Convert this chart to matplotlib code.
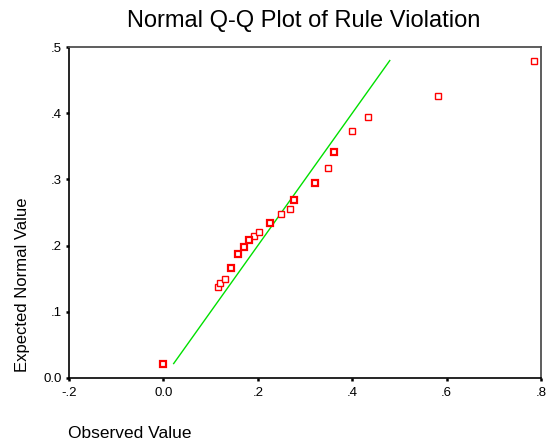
import numpy as np
import matplotlib.pyplot as plt
from matplotlib.ticker import FixedLocator, FixedFormatter

plt.rcParams['font.family'] = ['Liberation Sans', 'DejaVu Sans']

# observed values and their expected normal values (tied cases counted twice)
observed = [0.000, 0.1155, 0.120, 0.1308, 0.1429, 0.1584, 0.1717, 0.1823,
            0.1923, 0.2022, 0.2262, 0.2489, 0.2693, 0.2771, 0.3210, 0.3498,
            0.3619, 0.3986, 0.4325, 0.5817, 0.7853]
expected = [0.0218, 0.1377, 0.1430, 0.1493, 0.1655, 0.1876, 0.1982, 0.2078,
            0.2148, 0.2204, 0.2336, 0.2481, 0.2552, 0.2684, 0.2941, 0.3177,
            0.3410, 0.3732, 0.3949, 0.4262, 0.4796]
counts = [2, 1, 1, 1, 2, 2, 2, 2, 1, 1, 2, 1, 1, 2, 2, 1, 2, 1, 1, 1, 1]

xticks = [-0.2, 0.0, 0.2, 0.4, 0.6, 0.8]
xlabels = ['-.2', '0.0', '.2', '.4', '.6', '.8']
yticks = [0.0, 0.1, 0.2, 0.3, 0.4, 0.5]
ylabels = ['0.0', '.1', '.2', '.3', '.4', '.5']

fig = plt.figure(figsize=(5.59, 4.46), dpi=100)
ax = fig.add_axes([0.1234, 0.1525, 0.8444, 0.742])

# reference line y = x over the range of expected values
lo, hi = min(expected), max(expected)
ax.plot([lo, hi], [lo, hi], color='#00e000', lw=1.0, zorder=2)

obs = np.array(observed)
exp_ = np.array(expected)
cnt = np.array(counts)
for c, lw in [(1, 1.0), (2, 1.6)]:
    m = cnt == c
    ax.plot(obs[m], exp_[m], ls='none', marker='s', ms=4.2,
            mfc='white', mec='#ff0000', mew=lw, zorder=3)

ax.set_xlim(-0.2, 0.8)
ax.set_ylim(0.0, 0.5)
ax.xaxis.set_major_locator(FixedLocator(xticks))
ax.xaxis.set_major_formatter(FixedFormatter(xlabels))
ax.yaxis.set_major_locator(FixedLocator(yticks))
ax.yaxis.set_major_formatter(FixedFormatter(ylabels))
ax.tick_params(direction='out', length=2, width=1.8, labelsize=9.5, pad=3)
ax.tick_params(axis='x', pad=4.5)

for side in ['left', 'bottom']:
    ax.spines[side].set_linewidth(1.2)
    ax.spines[side].set_color('black')
for side in ['top', 'right']:
    ax.spines[side].set_linewidth(1.3)
    ax.spines[side].set_color('#505050')

fig.text(0.544, 0.953, 'Normal Q-Q Plot of Rule Violation', ha='center',
         va='center', fontsize=17)
fig.text(0.122, 0.029, 'Observed Value', ha='left', va='center', fontsize=12.5)
fig.text(0.041, 0.166, 'Expected Normal Value', ha='center', va='bottom',
         rotation=90, fontsize=12)

fig.savefig('out.png', dpi=100)
